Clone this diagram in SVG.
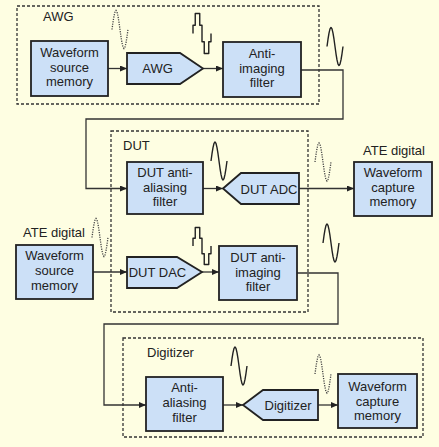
<svg xmlns="http://www.w3.org/2000/svg" xmlns:xlink="http://www.w3.org/1999/xlink" width="439" height="447" viewBox="0 0 439 447">
<style>
.bg{fill:#FEFEE2}
.grp{fill:none;stroke:#333;stroke-width:1.3;stroke-dasharray:3 2}
.box{fill:#CCE0F7;stroke:#222;stroke-width:1.8}
.t{font-family:"Liberation Sans",Arial,sans-serif;font-size:13px;fill:#222;text-anchor:middle}
.lbl{font-family:"Liberation Sans",Arial,sans-serif;font-size:13px;fill:#222}
.con{fill:none;stroke:#333;stroke-width:1.3}
.wave{fill:none;stroke:#222;stroke-width:1.4;stroke-linejoin:round}
.dot{fill:none;stroke:#444;stroke-width:1.3;stroke-dasharray:1.2 1.2}
</style>
<defs>
<marker id="ah" markerUnits="userSpaceOnUse" markerWidth="8" markerHeight="7" refX="7" refY="3" orient="auto">
<path d="M0,0 L7,3 L0,6 z" fill="#222"/>
</marker>
<path id="sine" d="M0,0 L1,-7.27 2,-13.43 3,-17.55 4,-19 5,-17.55 6,-13.43 7,-7.27 8,0 9,7.27 10,13.43 11,17.55 12,19 13,17.55 14,13.43 15,7.27 16,0"/>
<path id="stair" d="M0,0 V-7.7 H2.25 V-18.5 H6.75 V-7.7 H9 V7.7 H11.25 V18.5 H15.75 V7.7 H18 V0"/>
</defs>
<rect class="bg" x="0" y="0" width="439" height="447"/>

<g id="connectors">
<path class="con" d="M108,68.5 H127" marker-end="url(#ah)"/>
<path class="con" d="M203,68.5 H223" marker-end="url(#ah)"/>
<path class="con" d="M301,70 H343 V119 H86 V188.5 H127" marker-end="url(#ah)"/>
<path class="con" d="M203,188.5 H223" marker-end="url(#ah)"/>
<path class="con" d="M299,188.5 H354" marker-end="url(#ah)"/>
<path class="con" d="M93,272 H127" marker-end="url(#ah)"/>
<path class="con" d="M202,272 H219" marker-end="url(#ah)"/>
<path class="con" d="M297,273 H338 V324 H104 V405 H146" marker-end="url(#ah)"/>
<path class="con" d="M223,405 H243" marker-end="url(#ah)"/>
<path class="con" d="M318,405 H338" marker-end="url(#ah)"/>
</g>

<g id="waves">
<use xlink:href="#sine" class="dot" transform="translate(112,29.5)"/>
<use xlink:href="#stair" class="wave" transform="translate(193,33.5) scale(1,1.08)"/>
<use xlink:href="#sine" class="wave" transform="translate(327,46.5)"/>
<use xlink:href="#sine" class="wave" transform="translate(211,161)"/>
<use xlink:href="#sine" class="dot" transform="translate(315,162)"/>
<use xlink:href="#sine" class="dot" transform="translate(92,237.5)"/>
<use xlink:href="#stair" class="wave" transform="translate(193,246)"/>
<use xlink:href="#sine" class="wave" transform="translate(323,243)"/>
<use xlink:href="#sine" class="wave" transform="translate(231,366)"/>
<use xlink:href="#sine" class="dot" transform="translate(315,374)"/>
</g>

<g id="awg-group">
<rect class="grp" x="17" y="6" width="302" height="98"/>
<text class="lbl" x="43" y="20.5">AWG</text>
</g>
<g id="awg-source-memory">
<rect class="box" x="31" y="41" width="77" height="55"/>
<text class="t" x="69.5" y="57">Waveform</text>
<text class="t" x="69.5" y="71.5">source</text>
<text class="t" x="69.5" y="86">memory</text>
</g>
<g id="awg">
<polygon class="box" points="127,53 180,53 203,68.5 180,84 127,84"/>
<text class="t" x="157.5" y="73">AWG</text>
</g>
<g id="anti-imaging-filter">
<rect class="box" x="223" y="42" width="78" height="55"/>
<text class="t" x="262" y="57.5">Anti-</text>
<text class="t" x="262" y="72.5">imaging</text>
<text class="t" x="262" y="87">filter</text>
</g>

<g id="dut-group">
<rect class="grp" x="111" y="131" width="197" height="181"/>
<text class="lbl" x="123" y="150">DUT</text>
</g>
<g id="dut-anti-aliasing-filter">
<rect class="box" x="127" y="162" width="76" height="52"/>
<text class="t" x="165" y="176.5">DUT anti-</text>
<text class="t" x="165" y="191.5">aliasing</text>
<text class="t" x="165" y="206">filter</text>
</g>
<g id="dut-adc">
<polygon class="box" points="223,188.5 241,173 299,173 299,204 241,204"/>
<text class="t" x="269" y="193.5">DUT ADC</text>
</g>
<g id="dut-dac">
<polygon class="box" points="127,257 177,257 202,272 177,288 127,288"/>
<text class="t" x="157.5" y="276.5">DUT DAC</text>
</g>
<g id="dut-anti-imaging-filter">
<rect class="box" x="219" y="246" width="78" height="54"/>
<text class="t" x="258" y="261.5">DUT anti-</text>
<text class="t" x="258" y="276.5">imaging</text>
<text class="t" x="258" y="291">filter</text>
</g>

<g id="ate-source-memory">
<text class="lbl" x="23" y="236.5">ATE digital</text>
<rect class="box" x="16" y="245" width="77" height="54"/>
<text class="t" x="54.5" y="260">Waveform</text>
<text class="t" x="54.5" y="275">source</text>
<text class="t" x="54.5" y="289.5">memory</text>
</g>
<g id="ate-capture-memory">
<text class="lbl" x="363" y="155">ATE digital</text>
<rect class="box" x="354" y="162" width="78" height="54"/>
<text class="t" x="393" y="177">Waveform</text>
<text class="t" x="393" y="192">capture</text>
<text class="t" x="393" y="206">memory</text>
</g>

<g id="digitizer-group">
<rect class="grp" x="123" y="338" width="300" height="99"/>
<text class="lbl" x="147" y="357">Digitizer</text>
</g>
<g id="anti-aliasing-filter">
<rect class="box" x="146" y="377" width="77" height="54"/>
<text class="t" x="184.5" y="392">Anti-</text>
<text class="t" x="184.5" y="407">aliasing</text>
<text class="t" x="184.5" y="422">filter</text>
</g>
<g id="digitizer">
<polygon class="box" points="243,405 263,390 318,390 318,420 263,420"/>
<text class="t" x="288" y="409.5">Digitizer</text>
</g>
<g id="digitizer-capture-memory">
<rect class="box" x="338" y="374" width="79" height="54"/>
<text class="t" x="377.5" y="390.5">Waveform</text>
<text class="t" x="377.5" y="405.5">capture</text>
<text class="t" x="377.5" y="420">memory</text>
</g>
</svg>
